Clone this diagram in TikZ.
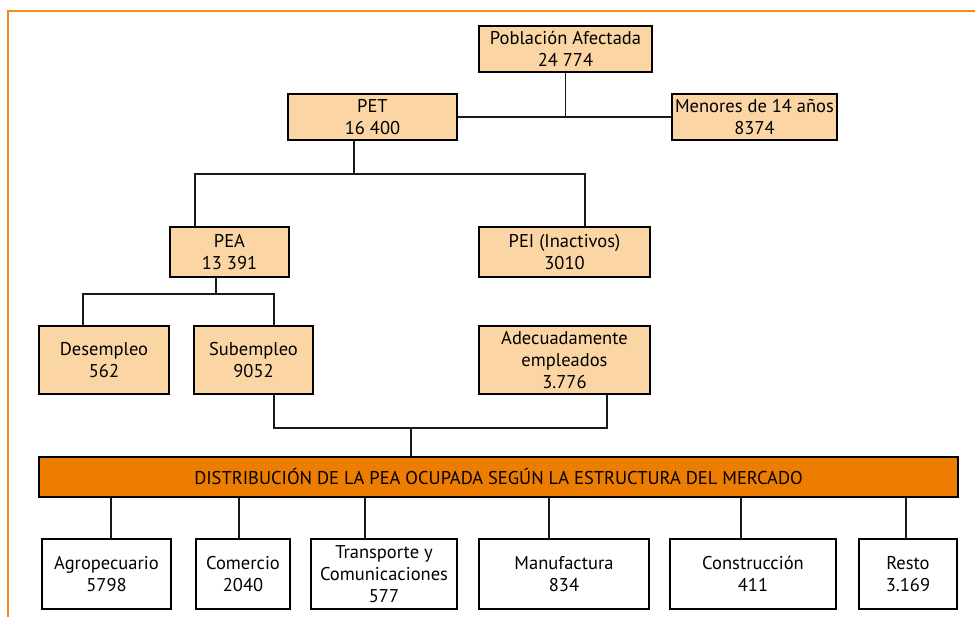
\documentclass[tikz,border=0pt]{standalone}
\usepackage{fontspec}
\setmainfont{PT Sans}
\usepackage{tikz}
\usetikzlibrary{calc}
\definecolor{durazno}{RGB}{251,214,164}
\definecolor{naranja}{RGB}{236,125,0}
\definecolor{marco}{RGB}{240,138,30}
\tikzset{
  caja/.style={draw=black, fill=durazno, line width=1.8pt, align=center, inner sep=0pt,
    font=\fontsize{18.5}{22}\selectfont},
  cajab/.style={caja, fill=white},
  barra/.style={caja, fill=naranja},
  linea/.style={line width=1.6pt, draw=black!90}
}
\newcommand{\caja}[6]{\node[#1, minimum width=#4pt, minimum height=#5pt] (#2) at (#3) {#6};}

\begin{document}
\begin{tikzpicture}[x=1pt,y=-1pt]
\useasboundingbox (0,0) rectangle (975,617);
% orange frame
\draw[marco, line width=2.5pt] (8,617) -- (8,11) -- (975,11);
% top levels
\caja{caja}{pob}{565.5,49}{173}{46}{Población Afectada\\24 774}
\caja{caja}{pet}{372.5,117}{169}{46}{PET\\16 400}
\caja{caja}{men}{754.5,117}{165}{46}{Menores de 14 años\\8374}
\caja{caja}{pea}{229.5,252}{119}{50}{PEA\\13 391}
\caja{caja}{pei}{564.5,252}{171}{50}{PEI (Inactivos)\\3010}
% employment boxes
\caja{caja}{des}{104,360}{130}{68}{Desempleo\\562}
\caja{caja}{sub}{253.5,360}{119}{68}{Subempleo\\9052}
\caja{caja}{ade}{564.5,360}{171}{68}{Adecuadamente\\empleados\\3.776}
% market bar
\caja{barra}{bar}{498.5,477}{919}{40}{DISTRIBUCIÓN DE LA PEA OCUPADA SEGÚN LA ESTRUCTURA DEL MERCADO}
% sectors
\caja{cajab}{agr}{106.5,574}{129}{70}{Agropecuario\\5798}
\caja{cajab}{com}{243,574}{94}{70}{Comercio\\2040}
\caja{cajab}{tra}{384,574}{146}{70}{Transporte y\\Comunicaciones\\577}
\caja{cajab}{man}{564,574}{170}{70}{Manufactura\\834}
\caja{cajab}{con}{753,574}{166}{70}{Construcción\\411}
\caja{cajab}{res}{908,574}{98}{70}{Resto\\3.169}
% junction points
\coordinate (k1) at (354,174);
\coordinate (k1a) at (195,174);
\coordinate (k1b) at (585,174);
\coordinate (k2) at (216,294);
\coordinate (k2a) at (83,294);
\coordinate (k2b) at (274,294);
\coordinate (k3) at (411,428);
\coordinate (k3a) at (274,428);
\coordinate (k3b) at (607,428);
% connectors
\draw[linea] (pet.east) -- (men.west);
\draw[linea] (pob.south) -- (pob.south |- pet.east);
\draw[linea] (pet.south -| k1) -- (k1);
\draw[linea] (k1a |- pea.north) -- (k1a) -- (k1b) -- (k1b |- pei.north);
\draw[linea] (pea.south -| k2) -- (k2);
\draw[linea] (k2a |- des.north) -- (k2a) -- (k2b) -- (k2b |- sub.north);
\draw[linea] (sub.south -| k3a) -- (k3a) -- (k3b) -- (ade.south -| k3b);
\draw[linea] (k3) -- (k3 |- bar.north);
\foreach \n/\x in {agr/111, com/239, tra/365, man/549, con/741, res/906}{
  \path (\x,0) coordinate (tmp);
  \draw[linea] (bar.south -| tmp) -- (tmp |- \n.north);
}
\end{tikzpicture}
\end{document}
